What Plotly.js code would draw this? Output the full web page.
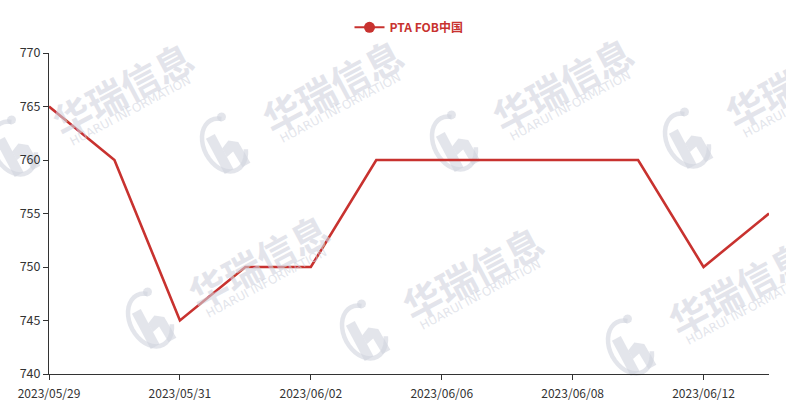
<!DOCTYPE html>
<html>
<head>
<meta charset="utf-8">
<script src="https://cdn.plot.ly/plotly-3.0.1.min.js"></script>
<style>html,body{margin:0;padding:0;background:#fff;}#chart{width:786px;height:414px;}</style>
</head>
<body>
<div id="chart"></div>
<script>
const categories = ["2023/05/29","2023/05/30","2023/05/31","2023/06/01","2023/06/02","2023/06/05","2023/06/06","2023/06/07","2023/06/08","2023/06/09","2023/06/12","2023/06/13"];
const values = [765, 760, 745, 750, 750, 760, 760, 760, 760, 760, 750, 755];
const tickLabels = ["2023/05/29","2023/05/31","2023/06/02","2023/06/06","2023/06/08","2023/06/12"];
const seriesName = "PTA FOB中国";
const watermarkCN = "华瑞信息";
const watermarkEN = "HUARUI INFORMATION";

const lineColor = "#c8322f";
const font = "'Noto Sans CJK SC', 'Noto Sans', sans-serif";

const traces = [
  {x: categories, y: values, type: "scatter", mode: "lines", line: {color: lineColor, width: 2.6}, showlegend: false, hoverinfo: "x+y"},
  {x: [categories[0]], y: [null], type: "scatter", mode: "lines+markers", name: seriesName,
   line: {color: lineColor, width: 2}, marker: {color: lineColor, size: 11}, showlegend: true}
];

// decorative watermark tiles (pixel centres of the Chinese text)
const L = 49, R = 769, T = 53, B = 374;
const px = v => (v - L) / (R - L);
const py = v => (B - v) / (B - T);
const wmCenters = [[122, 88], [332, 85], [562, 83], [795, 80], [258, 260], [472, 272], [738, 287]];
const wmColor = "rgba(208,211,222,0.6)";
const ANG = 28 * Math.PI / 180;
function rotPt(cx, cy, dx, dy) {
  const x = dx * Math.cos(ANG) + dy * Math.sin(ANG);
  const y = -dx * Math.sin(ANG) + dy * Math.cos(ANG);
  return [cx + x, cy + y];
}
function pathFrom(cx, cy, pts, close) {
  return pts.map((p, i) => {
    const [x, y] = rotPt(cx, cy, p[0], p[1]);
    return (i === 0 ? "M" : "L") + px(x).toFixed(5) + "," + py(y).toFixed(5);
  }).join(" ") + (close ? " Z" : "");
}
const annotations = [];
const shapes = [];
wmCenters.forEach(([cx, cy]) => {
  annotations.push({xref: "paper", yref: "paper", x: px(cx), y: py(cy), xanchor: "center", yanchor: "middle",
    text: watermarkCN, showarrow: false, textangle: -28,
    font: {family: font, size: 38, color: wmColor, weight: "bold"}});
  annotations.push({xref: "paper", yref: "paper", x: px(cx + 8), y: py(cy + 23), xanchor: "center", yanchor: "middle",
    text: watermarkEN, showarrow: false, textangle: -28,
    font: {family: "'DejaVu Sans', sans-serif", size: 12, color: wmColor}});
  // logo
  const lx = cx - 108, ly = cy + 60;
  const ring = [];
  for (let a = 60; a <= 330; a += 10) {
    const t = a * Math.PI / 180;
    ring.push([20 * Math.cos(t), -28 * Math.sin(t)]);
  }
  shapes.push({type: "path", xref: "paper", yref: "paper", layer: "below",
    path: pathFrom(lx, ly, ring, false), line: {color: wmColor, width: 4.5}});
  const dot = [];
  for (let a = 0; a < 360; a += 30) {
    const t = a * Math.PI / 180;
    dot.push([11 + 4.5 * Math.cos(t), -26 + 4.5 * Math.sin(t)]);
  }
  shapes.push({type: "path", xref: "paper", yref: "paper", layer: "below",
    path: pathFrom(lx, ly, dot, true), fillcolor: wmColor, line: {width: 0}});
  shapes.push({type: "path", xref: "paper", yref: "paper", layer: "below",
    path: pathFrom(lx, ly, [[-13, -14], [-3, -14], [-3, 26], [-13, 26]], true), fillcolor: wmColor, line: {width: 0}});
  shapes.push({type: "path", xref: "paper", yref: "paper", layer: "below",
    path: pathFrom(lx, ly, [[-3, 2], [6, -2], [14, 4], [15, 28], [6, 28], [5, 10], [-3, 12]], true), fillcolor: wmColor, line: {width: 0}});
});

const layout = {
  width: 786, height: 414,
  margin: {l: 49, r: 17, t: 53, b: 40},
  paper_bgcolor: "#fff", plot_bgcolor: "rgba(0,0,0,0)",
  showlegend: true,
  legend: {orientation: "h", x: 0.5, xanchor: "center", y: 1.035, yanchor: "bottom",
    font: {family: font, size: 12, color: lineColor, weight: "bold"}},
  xaxis: {
    type: "category", categoryorder: "array", categoryarray: categories,
    range: [0, categories.length - 1],
    tickmode: "array", tickvals: tickLabels, ticktext: tickLabels,
    showgrid: false, zeroline: false, showline: true, linecolor: "#333", linewidth: 1,
    ticks: "outside", ticklen: 5, tickcolor: "#333", ticklabelstandoff: 4,
    tickfont: {family: font, size: 12, color: "#333"}
  },
  yaxis: {
    range: [740, 770], dtick: 5, tick0: 740,
    showgrid: false, zeroline: false, showline: true, linecolor: "#333", linewidth: 1,
    ticks: "outside", ticklen: 5, tickcolor: "#333",
    tickfont: {family: font, size: 12.5, color: "#333"}
  },
  shapes: shapes,
  annotations: annotations
};
Plotly.newPlot("chart", traces, layout, {displayModeBar: false, staticPlot: true});
</script>
</body>
</html>
